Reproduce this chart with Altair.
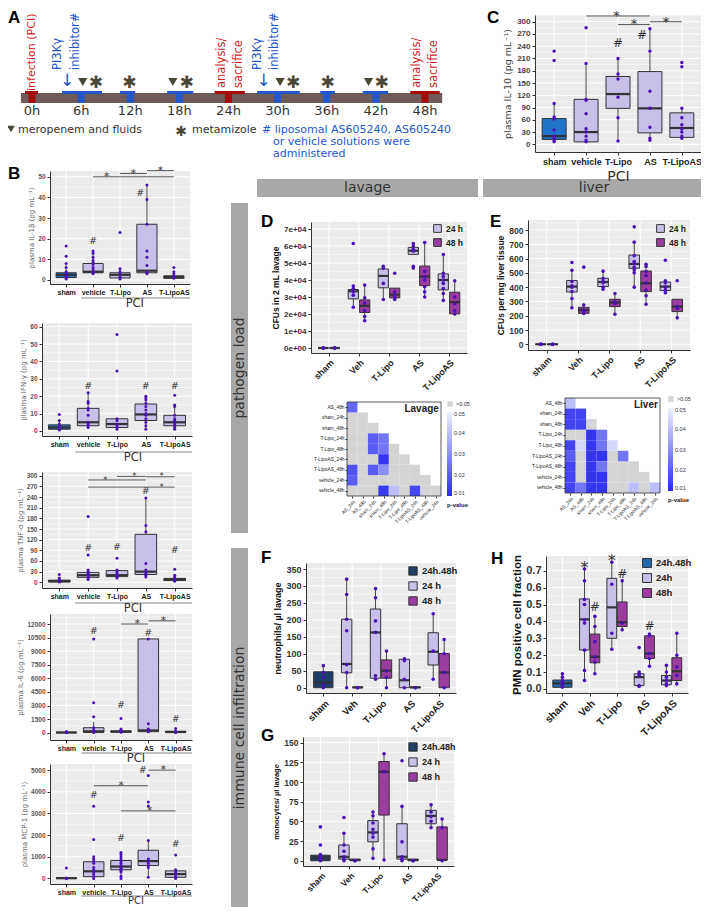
import json
import altair as alt
import pandas as pd

W, H = 693, 899


def P(v):
    return v - 8


SANS = "DejaVu Sans"
ARIAL = "Liberation Sans"
INK = "#333333"
PTC = "#4b12b3"
LAV = "#c8c0e9"
PUR = "#9b3c9f"
SHAM_B = "#2273ca"
SHAM_F = "#1f3d6b"
SHAM_H = "#2866ab"
BG = "#ebebeb"
RED = "#d21e1e"
DRED = "#a50d0d"
BLUE = "#2457c9"
OLIVE = "#4a4737"
HEAD = "#a8a8a8"

# ---------------- A: timeline ----------------
TIMES = [0, 6, 12, 18, 24, 30, 36, 42, 48]
TIME_LABELS = ["0h", "6h", "12h", "18h", "24h", "30h", "36h", "42h", "48h"]
TIME_KIND = ["event", "drug", "drug", "drug", "event", "drug", "drug", "drug", "event"]
SEG_FROM = [-0.85, 3.66, 10.75, 16.5, 22.3, 27.5, 35.2, 40.4, 46.2]
SEG_TO = [0.73, 8.55, 12.6, 19.7, 26.0, 32.7, 37.0, 43.5, 49.8]
BAR_SPAN = [-1.35, 50.1]
INFECT_H = [0.05]
INFECT_T = ["infection (PCI)"]
INHIB_H = [3.2, 5.4, 27.6, 29.7]
INHIB_T = ["PI3Kγ", "inhibitor#", "PI3Kγ", "inhibitor#"]
ANALYSIS_H = [23.2, 25.3, 47.0, 49.1]
ANALYSIS_T = ["analysis/", "sacrifice", "analysis/", "sacrifice"]
ARROW_H = [4.3, 28.3]
MERO_H = [6.2, 17.2, 30.3, 41.1]
METAM_H = [7.8, 11.9, 18.9, 31.9, 36.1, 42.7]

# ---------------- B / C: plasma cytokines ----------------
CATS_B = ["sham", "vehicle", "T-Lipo", "AS", "T-LipoAS"]
GRP_B = ["sham", "PCI", "PCI", "PCI", "PCI"]

IL1B_Q1 = [1.2, 3.5, 1.0, 3.5, 0.8]
IL1B_MED = [2.5, 4.0, 2.5, 4.5, 1.5]
IL1B_Q3 = [3.5, 8.0, 3.5, 27.0, 2.0]
IL1B_LO = [0.5, 3.0, 0.5, 3.0, 0.5]
IL1B_HI = [7.0, 14.0, 5.5, 46.0, 2.5]
IL1B_PTS = [[16.5, 11.5, 8, 6, 4, 3.5, 3, 2.5, 2, 1.5, 1, 0.5],
            [14, 13, 11, 9.5, 8.5, 7.5, 6, 5, 4, 3.5, 3],
            [23, 5.5, 4, 3, 1.5, 1, 0.5],
            [46, 39, 27, 14, 11, 7, 4, 3.5, 3],
            [6, 4, 3, 2, 1.5, 1, 1]]
IL1B_HASH = [(2, 19), (3.75, 42)]
IL1B_SIG = [(2, 5, 50.0, 2.5), (3, 4, 51.6, 3.5), (4, 5, 53.0, 4.5)]

IFNG_Q1 = [1, 3, 2, 6, 3]
IFNG_MED = [2, 5, 4, 9.5, 5]
IFNG_Q3 = [3.5, 13, 7, 15.5, 9]
IFNG_LO = [0.5, 2, 1, 1, 1]
IFNG_HI = [6, 22, 7, 20, 15]
IFNG_PTS = [[9.5, 6, 4, 3, 2.5, 2, 1.5, 1, 0.5],
            [22, 17, 16, 13, 12, 9, 5, 4, 3, 2],
            [55.5, 34.5, 7, 6, 4, 3, 2, 1],
            [20, 19, 18, 16, 14, 12, 10, 9, 7, 5, 3, 1],
            [20.5, 15, 14, 9, 7, 6, 5, 4, 3, 2, 1]]
IFNG_HASH = [(2, 26), (4, 26), (5, 26)]
IFNG_SIG = []

TNF_Q1 = [1, 14, 16, 22, 5]
TNF_MED = [3, 20, 20, 30, 8]
TNF_Q3 = [6, 28, 33, 135, 11]
TNF_LO = [0, 8, 10, 15, 2]
TNF_HI = [12, 35, 35, 237, 20]
TNF_PTS = [[22, 12, 8, 5, 3, 1],
           [185, 77, 35, 30, 25, 22, 20, 18, 15, 12, 8],
           [68, 35, 30, 25, 20, 17, 15, 12],
           [237, 160, 142, 53, 35, 30, 25, 20, 15],
           [37, 20, 15, 10, 8, 5, 3]]
TNF_HASH = [(2, 97), (3, 98), (4, 257), (5, 91)]
TNF_SIG = [(2, 4, 288, 2.6), (3, 4, 298, 3.6), (4, 5, 297, 4.55), (2, 5, 268, 4.55)]

IL6_Q1 = [0, 30, 50, 100, 20]
IL6_MED = [20, 150, 120, 250, 80]
IL6_Q3 = [50, 550, 200, 10350, 150]
IL6_LO = [0, 0, 20, 50, 0]
IL6_HI = [100, 1200, 400, 10350, 200]
IL6_PTS = [[120, 50, 20, 0],
           [10350, 3300, 1750, 550, 300, 150, 80, 30],
           [1580, 400, 300, 150, 100, 50],
           [10350, 1000, 400, 300, 200, 100],
           [450, 150, 50, 20]]
IL6_HASH = [(2, 11260), (3, 3050), (4, 11040), (5, 1470)]
IL6_SIG = [(3, 4, 12000, 3.6), (4, 5, 12350, 4.55)]

MCP1_Q1 = [0, 80, 400, 600, 50]
MCP1_MED = [10, 330, 550, 800, 200]
MCP1_Q3 = [30, 770, 830, 1300, 350]
MCP1_LO = [0, 0, 0, 50, 0]
MCP1_HI = [50, 1000, 1200, 1750, 400]
MCP1_PTS = [[480, 20, 0],
            [3330, 1800, 1000, 900, 800, 700, 500, 400, 300, 200, 100, 0],
            [1200, 1100, 1000, 900, 800, 700, 600, 500, 450, 400, 350, 300, 100, 0],
            [4750, 3530, 3350, 1750, 900, 850, 800, 700, 600, 500, 50],
            [1080, 400, 300, 200, 100, 50, 0]]
MCP1_HASH = [(2, 3840), (3, 1880), (3.8, 5000), (5, 1580)]
MCP1_SIG = [(4, 5, 5000, 4.55), (2, 4, 4280, 3.0), (3, 5, 3120, 4.05)]

IL10_Q1 = [12, 6, 88, 28, 17]
IL10_MED = [20, 30, 123, 88, 40]
IL10_Q3 = [63, 110, 166, 178, 77]
IL10_LO = [6, 6, 8, 8, 14]
IL10_HI = [100, 198, 210, 283, 88]
IL10_PTS = [[228, 205, 100, 67, 62, 35, 20, 15, 10, 6],
            [285, 198, 110, 108, 75, 38, 30, 20, 10, 6],
            [210, 172, 160, 115, 65, 8],
            [283, 228, 130, 88, 42, 15, 10],
            [200, 190, 88, 65, 48, 38, 30, 20, 15]]
IL10_HASH = [(3, 248), (3.75, 268)]
IL10_SIG = [(2, 4, 314, 2.95), (3, 4, 293, 3.5), (4, 5, 300, 4.5)]

# ---------------- D / E: pathogen load ----------------
CATS_D = ["sham", "Veh", "T-Lipo", "AS", "T-LipoAS"]
D_Q1_24 = [0, 28900, 35400, 55100, 34200]
D_MED_24 = [0, 33400, 42400, 57200, 40000]
D_Q3_24 = [0, 34400, 46500, 59200, 43600]
D_LO_24 = [0, 23600, 28300, 55100, 27900]
D_HI_24 = [0, 37100, 48000, 61500, 55900]
D_PTS_24 = [[0, 0, 0], [61500, 36500, 35000, 33000, 31000, 24000],
            [48000, 47000, 38000, 28500], [61500, 60000, 58000, 57000, 48000, 47000],
            [55000, 44000, 42000, 40000, 38000, 35000, 32000, 28000]]
D_Q1_48 = [0, 20900, 29500, 36700, 20100]
D_MED_48 = [0, 24800, 31400, 42000, 27000]
D_Q3_48 = [0, 28300, 35200, 48200, 32800]
D_LO_48 = [0, 15600, 28500, 30000, 19100]
D_HI_48 = [0, 37700, 35200, 62000, 39600]
D_PTS_48 = [[0, 0, 0], [37000, 29500, 26500, 22000, 18500, 16000],
            [44000, 33000, 31000, 29500, 28500], [62000, 45000, 42000, 40000, 36000, 33000, 30000],
            [39500, 30000, 26000, 22000, 20000]]

E_Q1_24 = [0, 366, 404, 532, 376]
E_MED_24 = [0, 404, 436, 562, 404]
E_Q3_24 = [0, 446, 462, 625, 436]
E_LO_24 = [0, 259, 385, 397, 362]
E_HI_24 = [0, 518, 516, 718, 443]
E_PTS_24 = [[0, 0, 0], [572, 518, 440, 410, 400, 370, 320, 255],
            [512, 460, 440, 430, 400, 385], [822, 715, 620, 580, 565, 540, 520, 500, 400],
            [588, 445, 430, 400, 380, 375, 360]]
E_Q1_48 = [0, 217, 264, 369, 229]
E_MED_48 = [0, 240, 292, 427, 264]
E_Q3_48 = [0, 259, 315, 513, 315]
E_LO_48 = [0, 210, 205, 282, 182]
E_HI_48 = [0, 287, 357, 562, 315]
E_PTS_48 = [[0, 0, 0], [540, 275, 240, 230, 215], [355, 300, 290, 285, 210],
            [560, 545, 510, 480, 430, 380, 340, 280], [445, 265, 250, 185]]

# heatmaps (None = p > 0.05)
HM_ROWS = ["AS_48h", "sham_24h", "sham_48h", "T-Lipo_24h", "T-Lipo_48h",
           "T-LipoAS_24h", "T-LipoAS_48h", "vehicle_24h", "vehicle_48h"]
HM_COLS = ["AS_24h", "AS_48h", "sham_24h", "sham_48h", "T-Lipo_24h", "T-Lipo_48h",
           "T-LipoAS_24h", "T-LipoAS_48h", "vehicle_24h"]
LAV_P = [[0.022],
         [None, None],
         [None, None, None],
         [None, None, 0.02, 0.025],
         [None, None, 0.02, 0.025, None],
         [None, None, None, 0.012, None, None],
         [0.018, None, 0.02, 0.03, None, None, None],
         [0.02, None, None, None, None, None, None, None],
         [None, None, None, 0.013, 0.04, None, 0.016, None, None]]
LIV_P = [[0.04],
         [0.015, 0.015],
         [0.015, 0.015, None],
         [None, None, 0.012, 0.025],
         [0.015, 0.045, 0.012, 0.025, 0.045],
         [0.02, None, 0.012, 0.012, None, 0.025],
         [0.015, None, 0.012, 0.025, None, None, None],
         [0.015, None, 0.012, 0.012, None, None, None, None],
         [0.015, 0.025, 0.012, 0.012, None, None, 0.04, None, 0.04]]

# ---------------- F / G / H: immune cells ----------------
F_SHAM = [0, 15, 47, 0, 67]
F_SHAM_PTS = [65, 45, 30, 10, 0]
F_Q1_24 = [44, 28, 0, 67]
F_MED_24 = [70, 163, 22, 106]
F_Q3_24 = [202, 232, 84, 162]
F_LO_24 = [0, 25, 0, 25]
F_HI_24 = [320, 292, 85, 218]
F_PTS_24 = [[320, 275, 202, 168, 68, 45, 0], [292, 265, 197, 163, 35, 25], [85, 80, 25, 0], [218, 108, 25]]
F_Q1_48 = [0, 28, 0, 0]
F_MED_48 = [1, 50, 1, 45]
F_Q3_48 = [2, 82, 2, 101]
F_LO_48 = [0, 0, 0, 0]
F_HI_48 = [2, 108, 2, 142]
F_PTS_48 = [[0, 0], [108, 50, 30, 0], [0, 0], [142, 100, 45, 0]]

G_SHAM = [0, 4, 7, 0, 8]
G_SHAM_PTS = [43, 20, 8, 5, 3, 1, 0]
G_Q1_24 = [2, 24, 2, 47]
G_MED_24 = [5, 36, 5, 57]
G_Q3_24 = [20, 51, 47, 64]
G_LO_24 = [0, 3, 0, 42]
G_HI_24 = [36, 63, 69, 71]
G_PTS_24 = [[55, 35, 20, 12, 5, 2, 0], [62, 57, 48, 40, 35, 30, 15, 3], [127, 69, 24, 5, 2, 0], [71, 62, 56, 50, 42]]
G_Q1_48 = [0, 58, 0, 1]
G_MED_48 = [1, 113, 1, 1]
G_Q3_48 = [2, 126, 2, 43]
G_LO_48 = [0, 1, 0, 0]
G_HI_48 = [2, 137, 2, 54]
G_PTS_48 = [[0, 0], [136, 113, 1], [0, 0], [53, 42, 0]]

H_SHAM = [0.01, 0.034, 0.053, 0.005, 0.09]
H_SHAM_PTS = [0.09, 0.07, 0.05, 0.04, 0.03, 0.02, 0.01]
H_Q1_24 = [0.231, 0.30, 0.02, 0.025]
H_MED_24 = [0.412, 0.483, 0.07, 0.05]
H_Q3_24 = [0.533, 0.655, 0.09, 0.08]
H_LO_24 = [0.05, 0.235, 0.015, 0.015]
H_HI_24 = [0.71, 0.75, 0.10, 0.14]
H_PTS_24 = [[0.71, 0.64, 0.53, 0.5, 0.41, 0.39, 0.23, 0.11, 0.05], [0.75, 0.62, 0.33, 0.235],
            [0.245, 0.1, 0.09, 0.08, 0.02, 0.015], [0.14, 0.1, 0.07, 0.05, 0.03, 0.02]]
H_Q1_48 = [0.155, 0.37, 0.18, 0.05]
H_MED_48 = [0.19, 0.395, 0.21, 0.105]
H_Q3_48 = [0.325, 0.515, 0.315, 0.185]
H_LO_48 = [0.09, 0.35, 0.135, 0.025]
H_HI_48 = [0.43, 0.64, 0.325, 0.33]
H_PTS_48 = [[0.43, 0.37, 0.28, 0.19, 0.16, 0.09], [0.64, 0.39, 0.35],
            [0.325, 0.315, 0.21, 0.18, 0.135], [0.33, 0.2, 0.13, 0.08, 0.03]]
H_STAR = [(1.81, 0.738), (2.81, 0.779)]
H_HASH = [(2.19, 0.483), (3.19, 0.68), (4.19, 0.375)]

# ======================================================================
AXC = dict(grid=False, zindex=1, domainColor=INK, tickColor=INK, labelOverlap=False,
           labelFlush=False, domainWidth=1)
ONE = pd.DataFrame({"k": [0]})


def box_rows(idx, off, half, grp, q1, med, q3, lo, hi):
    out = []
    for c, a, m, b, l, h in zip(idx, q1, med, q3, lo, hi):
        out.append(dict(pos=c + off, l=c + off - half, r=c + off + half,
                        q1=a, med=m, q3=b, lo=l, hi=h, grp=grp))
    return out


def pt_rows(idx, off, pts):
    return [dict(pos=c + off, v=v) for c, vs in zip(idx, pts) for v in vs]


def box_panel(xr, yr, ydom, yticks, cats, boxes, pts, cdom, crange, legend, xkw, ykw, ptsize):
    n = len(cats)
    xdom = [0.4, n + 0.6]
    xs = alt.Scale(domain=xdom, range=[P(xr[0]), P(xr[1])], nice=False, zero=False)
    ys = alt.Scale(domain=list(ydom), range=[P(yr[1]), P(yr[0])], nice=False, zero=False)
    xa = alt.Axis(orient="bottom", offset=P(yr[1]) - H, values=list(range(1, n + 1)),
                  labelExpr=json.dumps(cats) + "[round(datum.value) - 1]",
                  tickSize=3, **AXC, **xkw)
    ya = alt.Axis(orient="left", offset=-P(xr[0]), values=list(yticks), tickSize=3, **AXC, **ykw)

    def X(f):
        return alt.X(f, type="quantitative", scale=xs, axis=xa)

    def Y(f):
        return alt.Y(f, type="quantitative", scale=ys, axis=ya)

    L = []
    bg = pd.DataFrame([{"a": xdom[0], "b": xdom[1], "c": ydom[0], "d": ydom[1]}])
    L.append(alt.Chart(bg).mark_rect(fill=BG).encode(x=X("a"), x2="b", y=Y("c"), y2="d"))
    step = yticks[1] - yticks[0]
    minor = [t + step / 2 for t in yticks if ydom[0] < t + step / 2 < ydom[1]]
    mg = pd.DataFrame({"v": minor, "a": xdom[0], "b": xdom[1]})
    L.append(alt.Chart(mg).mark_rule(color="white", strokeWidth=0.5).encode(x=X("a"), x2="b", y=Y("v")))
    gg = pd.DataFrame({"v": list(yticks), "a": xdom[0], "b": xdom[1]})
    L.append(alt.Chart(gg).mark_rule(color="white", strokeWidth=1).encode(x=X("a"), x2="b", y=Y("v")))
    vg = pd.DataFrame({"c": list(range(1, n + 1)), "a": ydom[0], "b": ydom[1]})
    L.append(alt.Chart(vg).mark_rule(color="white", strokeWidth=1).encode(x=X("c"), y=Y("a"), y2="b"))
    bx = pd.DataFrame(boxes)
    L.append(alt.Chart(bx).mark_rule(color=INK, strokeWidth=0.9).encode(x=X("pos"), y=Y("lo"), y2="hi"))
    L.append(alt.Chart(bx).mark_rect(stroke=INK, strokeWidth=1).encode(
        x=X("l"), x2="r", y=Y("q1"), y2="q3",
        color=alt.Color("grp:N", scale=alt.Scale(domain=cdom, range=crange), legend=legend)))
    L.append(alt.Chart(bx).mark_rule(color=INK, strokeWidth=2.2).encode(x=X("l"), x2="r", y=Y("med")))
    L.append(alt.Chart(pd.DataFrame(pts)).mark_circle(color=PTC, size=ptsize, opacity=1).encode(
        x=X("pos"), y=Y("v")))
    return L, X, Y


def txt(X, Y, pairs, text, **mk):
    df = pd.DataFrame({"x": [p[0] for p in pairs], "y": [p[1] for p in pairs]})
    return alt.Chart(df).mark_text(text=text, **mk).encode(x=X("x"), y=Y("y"))


def sig_layers(X, Y, sig, fs):
    if not sig:
        return []
    df = pd.DataFrame({"a": [s[0] for s in sig], "b": [s[1] for s in sig],
                       "y": [s[2] for s in sig], "sx": [s[3] for s in sig]})
    rules = alt.Chart(df).mark_rule(color=INK, strokeWidth=0.8).encode(x=X("a"), x2="b", y=Y("y"))
    stars = alt.Chart(df).mark_text(text="*", font=SANS, fontSize=fs, color=INK,
                                    baseline="alphabetic", dy=fs * 0.3).encode(x=X("sx"), y=Y("y"))
    return [rules, stars]


# ---------------- build B / C panels ----------------
def cyto_panel(xr, yr, ydom, yticks, title, q1, med, q3, lo, hi, pts, hashes, sig,
               big=False, pci=None, pci_fs=11.5, star_fs=10.5):
    idx = list(range(1, 6))
    boxes = []
    for i, g in zip(idx, GRP_B):
        boxes += box_rows([i], 0, 0.375, g, [q1[i - 1]], [med[i - 1]], [q3[i - 1]], [lo[i - 1]], [hi[i - 1]])
    pr = pt_rows(idx, 0, pts)
    if big:
        xkw = dict(title="PCI", labelFont=ARIAL, labelFontSize=9, labelFontWeight="bold", labelColor="#222",
                   labelPadding=2, titleFont=SANS, titleFontSize=14, titleFontWeight="normal",
                   titleColor="#333", titlePadding=3)
        ykw = dict(title=title, labelFont=ARIAL, labelFontSize=8, labelFontWeight="bold", labelColor="#444",
                   titleFont=SANS, titleFontSize=9.5, titleFontWeight="normal", titleColor="#444",
                   titlePadding=4, format="d")
        fs_h, fs_s, ps = 12, 13, 12
    else:
        xkw = dict(title=None, labelFont=ARIAL, labelFontSize=7, labelFontWeight="bold", labelColor="#222",
                   labelPadding=1)
        ykw = dict(title=title, labelFont=ARIAL, labelFontSize=6.5, labelFontWeight="bold", labelColor="#555",
                   titleFont=SANS, titleFontSize=7, titleFontWeight="normal", titleColor="#666",
                   titlePadding=3, format="d")
        fs_h, fs_s, ps = 9.5, star_fs, 9
    L, X, Y = box_panel(xr, yr, ydom, yticks, CATS_B, boxes, pr, ["sham", "PCI"], [SHAM_B, LAV],
                        None, xkw, ykw, ps)
    if hashes:
        L.append(txt(X, Y, hashes, "#", font=SANS, fontSize=fs_h, color=INK, baseline="middle"))
    L += sig_layers(X, Y, sig, fs_s)
    if pci is not None:
        line_y, text_y = pci
        L.append(alt.Chart(pd.DataFrame({"a": [1.55], "b": [5.6]})).mark_rule(color="#666", strokeWidth=0.8)
                 .encode(x=X("a"), x2="b", y=alt.value(P(line_y))))
        L.append(alt.Chart(pd.DataFrame({"x": [3.55]})).mark_text(text="PCI", font=SANS, fontSize=pci_fs,
                                                                 color="#333", baseline="middle")
                 .encode(x=X("x"), y=alt.value(P(text_y))))
    return alt.layer(*L)


panels = []

panels.append(cyto_panel([535, 701], [15, 152], [-18.8, 316.4], list(range(0, 301, 30)),
                         "plasma IL-10 (pg mL⁻¹)", IL10_Q1, IL10_MED, IL10_Q3, IL10_LO, IL10_HI,
                         IL10_PTS, IL10_HASH, IL10_SIG, big=True))
panels.append(cyto_panel([50, 190], [171, 284], [-1.94, 52.8], list(range(0, 51, 10)),
                         "plasma IL-1β (pg mL⁻¹)", IL1B_Q1, IL1B_MED, IL1B_Q3, IL1B_LO, IL1B_HI,
                         IL1B_PTS, IL1B_HASH, IL1B_SIG, pci=(298, 304)))
panels.append(cyto_panel([42, 192], [323, 436], [-2.9, 62.1], list(range(0, 61, 10)),
                         "plasma IFN-γ (pg mL⁻¹)", IFNG_Q1, IFNG_MED, IFNG_Q3, IFNG_LO, IFNG_HI,
                         IFNG_PTS, IFNG_HASH, IFNG_SIG, pci=(452, 458)))
panels.append(cyto_panel([42, 192], [472, 588], [-16, 310.4], list(range(0, 301, 30)),
                         "plasma TNF-α (pg mL⁻¹)", TNF_Q1, TNF_MED, TNF_Q3, TNF_LO, TNF_HI,
                         TNF_PTS, TNF_HASH, TNF_SIG, pci=(603, 609), star_fs=8.5))
panels.append(cyto_panel([50, 192], [614, 740], [-806, 13104], list(range(0, 12001, 1500)),
                         "plasma IL-6 (pg mL⁻¹)", IL6_Q1, IL6_MED, IL6_Q3, IL6_LO, IL6_HI,
                         IL6_PTS, IL6_HASH, IL6_SIG, pci=(753, 759)))
panels.append(cyto_panel([50, 192], [764, 884], [-257, 5284], list(range(0, 5001, 1000)),
                         "plasma MCP-1 (pg mL⁻¹)", MCP1_Q1, MCP1_MED, MCP1_Q3, MCP1_LO, MCP1_HI,
                         MCP1_PTS, MCP1_HASH, MCP1_SIG, pci=(896, 901), pci_fs=10))


# ---------------- D / E / F / G / H ----------------
def grp_legend(x, y, fs, sym):
    return alt.Legend(orient="none", legendX=P(x), legendY=P(y), title=None, symbolType="square",
                      symbolSize=sym, symbolStrokeColor=INK, symbolStrokeWidth=1, labelFont=ARIAL,
                      labelFontSize=fs, labelFontWeight="bold", labelColor="#222", rowPadding=1,
                      labelOffset=4)


def rot_xkw(fs):
    return dict(title=None, labelAngle=-45, labelAlign="right", labelBaseline="top", labelFont=ARIAL,
                labelFontSize=fs, labelFontWeight="bold", labelColor="#222", labelPadding=2)


def bold_ykw(title, lfs, tfs, **extra):
    d = dict(title=title, labelFont=ARIAL, labelFontSize=lfs, labelFontWeight="bold", labelColor="#333",
             titleFont=ARIAL, titleFontSize=tfs, titleFontWeight="bold", titleColor="#111", titlePadding=3)
    d.update(extra)
    return d


def load_panel(xr, yr, ydom, yticks, q24, q48, p24, p48, legend, ykw, xfs):
    idx = list(range(1, 6))
    boxes = box_rows(idx, -0.19, 0.17, "24 h", *q24) + box_rows(idx, 0.19, 0.17, "48 h", *q48)
    pr = pt_rows(idx, -0.19, p24) + pt_rows(idx, 0.19, p48)
    L, X, Y = box_panel(xr, yr, ydom, yticks, CATS_D, boxes, pr, ["24 h", "48 h"], [LAV, PUR],
                        legend, rot_xkw(xfs), ykw, 13)
    return alt.layer(*L)


panels.append(load_panel([311, 467], [222, 353], [-2941, 74118], list(range(0, 70001, 10000)),
                         [D_Q1_24, D_MED_24, D_Q3_24, D_LO_24, D_HI_24],
                         [D_Q1_48, D_MED_48, D_Q3_48, D_LO_48, D_HI_48], D_PTS_24, D_PTS_48,
                         grp_legend(433, 224, 8.5, 60),
                         bold_ykw("CFUs in 2 mL lavage", 8, 8.5,
                                  labelExpr="datum.value == 0 ? '0e+00' : (datum.value / 10000) + 'e+04'"),
                         9))
panels.append(load_panel([528, 690], [220, 350], [-40, 870], list(range(0, 801, 100)),
                         [E_Q1_24, E_MED_24, E_Q3_24, E_LO_24, E_HI_24],
                         [E_Q1_48, E_MED_48, E_Q3_48, E_LO_48, E_HI_48], E_PTS_24, E_PTS_48,
                         grp_legend(656, 224, 8.5, 60),
                         bold_ykw("CFUs per mg liver tissue", 8.5, 8.5), 9))


def cell_panel(xr, yr, ydom, yticks, sham, sham_pts, q24, q48, p24, p48, labels, colors, legend, ykw,
               xfs, sham_half, extra=None):
    idx = [2, 3, 4, 5]
    boxes = box_rows([1], 0, sham_half, labels[0], [sham[0]], [sham[1]], [sham[2]], [sham[3]], [sham[4]])
    boxes += box_rows(idx, -0.19, 0.18, labels[1], *q24) + box_rows(idx, 0.19, 0.18, labels[2], *q48)
    pr = pt_rows([1], 0, [sham_pts]) + pt_rows(idx, -0.19, p24) + pt_rows(idx, 0.19, p48)
    L, X, Y = box_panel(xr, yr, ydom, yticks, CATS_D, boxes, pr, labels, colors, legend,
                        rot_xkw(xfs), ykw, 13)
    if extra:
        L += extra(X, Y)
    return alt.layer(*L)


panels.append(cell_panel([306, 456], [563, 693], [-15.6, 367.7], list(range(0, 351, 50)),
                         F_SHAM, F_SHAM_PTS,
                         [F_Q1_24, F_MED_24, F_Q3_24, F_LO_24, F_HI_24],
                         [F_Q1_48, F_MED_48, F_Q3_48, F_LO_48, F_HI_48], F_PTS_24, F_PTS_48,
                         ["24h.48h", "24 h", "48 h"], [SHAM_F, LAV, PUR],
                         grp_legend(408, 566, 9.5, 70),
                         bold_ykw("neutrophils/ µl lavage", 9, 9), 9.5, 0.335))
panels.append(cell_panel([303, 454], [737, 866], [-6.7, 157.2], list(range(0, 151, 25)),
                         G_SHAM, G_SHAM_PTS,
                         [G_Q1_24, G_MED_24, G_Q3_24, G_LO_24, G_HI_24],
                         [G_Q1_48, G_MED_48, G_Q3_48, G_LO_48, G_HI_48], G_PTS_24, G_PTS_48,
                         ["24h.48h", "24 h", "48 h"], [SHAM_F, LAV, PUR],
                         grp_legend(408, 742, 9, 70),
                         bold_ykw("monocytes/ µl lavage", 8.5, 7.5), 8.5, 0.335))


def h_extra(X, Y):
    return [txt(X, Y, H_STAR, "*", font=SANS, fontSize=16, color=INK, baseline="middle", dy=4),
            txt(X, Y, H_HASH, "#", font=SANS, fontSize=12, color=INK, baseline="middle")]


panels.append(cell_panel([546, 688], [556, 693], [-0.0237, 0.787], [0, 0.1, 0.2, 0.3, 0.4, 0.5, 0.6, 0.7],
                         H_SHAM, H_SHAM_PTS,
                         [H_Q1_24, H_MED_24, H_Q3_24, H_LO_24, H_HI_24],
                         [H_Q1_48, H_MED_48, H_Q3_48, H_LO_48, H_HI_48], H_PTS_24, H_PTS_48,
                         ["24h.48h", "24h", "48h"], [SHAM_H, LAV, PUR],
                         grp_legend(642, 558, 9.5, 80),
                         bold_ykw("PMN positive cell fraction", 11, 11.5, format=".1f"), 10.5, 0.35,
                         extra=h_extra))


# ---------------- heatmaps ----------------
def heat_panel(pv, xr, yr, name, legx, legy_gray, legy_grad, glen):
    xs = alt.Scale(domain=[0, 9], range=[P(xr[0]), P(xr[1])], nice=False, zero=False)
    ys = alt.Scale(domain=[0, 9], range=[P(yr[0]), P(yr[1])], nice=False, zero=False)
    xa = alt.Axis(orient="bottom", offset=P(yr[1]) - H, values=[i + 0.5 for i in range(9)],
                  labelExpr=json.dumps(HM_COLS) + "[floor(datum.value)]", labelAngle=-45,
                  labelAlign="right", labelBaseline="top", labelFont=ARIAL, labelFontSize=4.8,
                  labelColor="#222", tickSize=2, domain=False, title=None, labelPadding=1,
                  grid=False, zindex=1, tickColor=INK, labelOverlap=False, labelFlush=False)
    ya = alt.Axis(orient="left", offset=-P(xr[0]), values=[i + 0.5 for i in range(9)],
                  labelExpr=json.dumps(HM_ROWS) + "[floor(datum.value)]", labelFont=ARIAL,
                  labelFontSize=4.8, labelColor="#222", tickSize=2, domain=False, title=None,
                  labelPadding=1, grid=False, zindex=1, tickColor=INK, labelOverlap=False)

    def X(f):
        return alt.X(f, type="quantitative", scale=xs, axis=xa)

    def Y(f):
        return alt.Y(f, type="quantitative", scale=ys, axis=ya)

    gray, blue = [], []
    for r, row in enumerate(pv):
        for c, p in enumerate(row):
            rec = {"c0": c, "c1": c + 1, "r0": r, "r1": r + 1}
            if p is None:
                rec["k"] = ">0.05"
                gray.append(rec)
            else:
                rec["p"] = p
                blue.append(rec)
    L = []
    L.append(alt.Chart(pd.DataFrame([{"a": 0, "b": 9}])).mark_rect(fill="white").encode(
        x=X("a"), x2="b", y=Y("a"), y2="b"))
    L.append(alt.Chart(pd.DataFrame(gray)).mark_rect().encode(
        x=X("c0"), x2="c1", y=Y("r0"), y2="r1",
        color=alt.Color("k:N", scale=alt.Scale(domain=[">0.05"], range=["#d4d4d4"]),
                        legend=alt.Legend(orient="none", legendX=P(legx), legendY=P(legy_gray), title=None,
                                          symbolType="square", symbolSize=30, symbolStrokeWidth=0,
                                          labelFont=ARIAL, labelFontSize=5.5, labelOffset=3,
                                          labelColor="#333"))))
    L.append(alt.Chart(pd.DataFrame(blue)).mark_rect().encode(
        x=X("c0"), x2="c1", y=Y("r0"), y2="r1",
        color=alt.Color("p:Q", scale=alt.Scale(domain=[0.01, 0.05], range=["#2a2af0", "#eef1ff"],
                                               interpolate="rgb"),
                        legend=alt.Legend(orient="none", direction="vertical", legendX=P(legx),
                                          legendY=P(legy_grad), title="p-value", titleOrient="bottom",
                                          titleFont=ARIAL, titleFontSize=6, titleFontWeight="bold",
                                          titleColor="#222", gradientLength=glen, gradientThickness=5,
                                          gradientStrokeWidth=0, values=[0.01, 0.02, 0.03, 0.04, 0.05],
                                          format=".2f", labelFont=ARIAL, labelFontSize=5.5,
                                          labelColor="#333", labelOverlap=False))))
    L.append(alt.Chart(pd.DataFrame([{"a": 0, "b": 9}])).mark_rect(fill="white", fillOpacity=0,
                                                                  stroke=INK, strokeWidth=0.8).encode(
        x=X("a"), x2="b", y=Y("a"), y2="b"))
    L.append(alt.Chart(pd.DataFrame([{"x": 8.8, "y": 0.65}])).mark_text(
        text=name, font=ARIAL, fontSize=10, fontWeight="bold", align="right", baseline="middle",
        color="#222").encode(x=X("x"), y=Y("y")))
    return alt.layer(*L).resolve_scale(color="independent")


panels.append(heat_panel(LAV_P, [347, 441], [402, 496], "Lavage", 447, 401, 412, 84))
panels.append(heat_panel(LIV_P, [565, 660], [398, 493], "Liver", 668, 396, 408, 83))

# ---------------- timeline (A) ----------------
hx = alt.Scale(domain=[0, 48], range=[P(32), P(425)], nice=False, zero=False)


def HX(f):
    return alt.X(f, type="quantitative", scale=hx, axis=None)


TL = []
TL.append(alt.Chart(pd.DataFrame({"a": [BAR_SPAN[0]], "b": [BAR_SPAN[1]]})).mark_rect(color="#6f5a5a")
          .encode(x=HX("a"), x2="b", y=alt.value(P(93)), y2=alt.value(P(103))))
kind_color = alt.Color("k:N", scale=alt.Scale(domain=["event", "drug"], range=[DRED, BLUE]), legend=None)
TL.append(alt.Chart(pd.DataFrame({"a": SEG_FROM, "b": SEG_TO, "k": TIME_KIND})).mark_rect()
          .encode(x=HX("a"), x2="b", y=alt.value(P(91)), y2=alt.value(P(94)), color=kind_color))
TL.append(alt.Chart(pd.DataFrame({"a": [t - 0.43 for t in TIMES], "b": [t + 0.43 for t in TIMES],
                                  "k": TIME_KIND})).mark_rect()
          .encode(x=HX("a"), x2="b", y=alt.value(P(92)), y2=alt.value(P(103)), color=kind_color))
TL.append(alt.Chart(pd.DataFrame({"t": TIMES, "s": TIME_LABELS})).mark_text(
    font=SANS, fontSize=13, color="#333", baseline="middle")
          .encode(x=HX("t"), y=alt.value(P(111)), text="s:N"))
TL.append(alt.Chart(pd.DataFrame({"h": INFECT_H, "s": INFECT_T})).mark_text(
    font=SANS, fontSize=11, color=RED, angle=270, align="left", baseline="middle")
          .encode(x=HX("h"), y=alt.value(P(91)), text="s:N"))
TL.append(alt.Chart(pd.DataFrame({"h": INHIB_H, "s": INHIB_T})).mark_text(
    font=SANS, fontSize=11.5, color=BLUE, angle=270, align="left", baseline="middle")
          .encode(x=HX("h"), y=alt.value(P(70)), text="s:N"))
TL.append(alt.Chart(pd.DataFrame({"h": ANALYSIS_H, "s": ANALYSIS_T})).mark_text(
    font=SANS, fontSize=11.5, color=RED, angle=270, align="left", baseline="middle")
          .encode(x=HX("h"), y=alt.value(P(88)), text="s:N"))
TL.append(alt.Chart(pd.DataFrame({"h": ARROW_H})).mark_text(
    text="↓", font=SANS, fontSize=17, color=BLUE, baseline="middle")
          .encode(x=HX("h"), y=alt.value(P(81))))
TL.append(alt.Chart(pd.DataFrame({"h": MERO_H})).mark_point(
    shape="triangle-down", filled=True, size=85, color=OLIVE, opacity=1)
          .encode(x=HX("h"), y=alt.value(P(82))))
TL.append(alt.Chart(pd.DataFrame({"h": METAM_H})).mark_text(
    text="✱", font=SANS, fontSize=17, color=OLIVE, baseline="middle")
          .encode(x=HX("h"), y=alt.value(P(83))))
panels.append(alt.layer(*TL))

# ---------------- decorations: legend of A, headers, side bars, letters ----------------
DEC = []
DEC.append(alt.Chart(ONE).mark_point(shape="triangle-down", filled=True, size=60, color=OLIVE, opacity=1)
           .encode(x=alt.value(P(11)), y=alt.value(P(129))))
DEC.append(alt.Chart(ONE).mark_text(text="meropenem and fluids", font=SANS, fontSize=11, color="#333",
                                    align="left", baseline="middle")
           .encode(x=alt.value(P(18)), y=alt.value(P(130))))
DEC.append(alt.Chart(ONE).mark_text(text="✱", font=SANS, fontSize=14, color=OLIVE, baseline="middle")
           .encode(x=alt.value(P(181)), y=alt.value(P(132))))
DEC.append(alt.Chart(ONE).mark_text(text="metamizole", font=SANS, fontSize=11, color="#333",
                                    align="left", baseline="middle")
           .encode(x=alt.value(P(192)), y=alt.value(P(130))))
for ytxt, xtxt, s in [(130, 262, "# liposomal AS605240, AS605240"),
                      (142, 273, "or vehicle solutions were"),
                      (154, 273, "administered")]:
    DEC.append(alt.Chart(ONE).mark_text(text=s, font=SANS, fontSize=11, color=BLUE, align="left",
                                        baseline="middle")
               .encode(x=alt.value(P(xtxt)), y=alt.value(P(ytxt))))

for x0, x1, s in [(257, 478, "lavage"), (483, 705, "liver")]:
    DEC.append(alt.Chart(ONE).mark_rect(color=HEAD).encode(
        x=alt.value(P(x0)), x2=alt.value(P(x1)), y=alt.value(P(179)), y2=alt.value(P(197))))
    DEC.append(alt.Chart(ONE).mark_text(text=s, font=SANS, fontSize=14, color="#333", baseline="middle")
               .encode(x=alt.value(P((x0 + x1) / 2)), y=alt.value(P(188))))
for y0, y1, s in [(203, 533, "pathogen load"), (548, 908, "immune cell infiltration")]:
    DEC.append(alt.Chart(ONE).mark_rect(color=HEAD).encode(
        x=alt.value(P(231)), x2=alt.value(P(248)), y=alt.value(P(y0)), y2=alt.value(P(y1))))
    DEC.append(alt.Chart(ONE).mark_text(text=s, font=SANS, fontSize=14, color="#333", angle=270,
                                        baseline="middle", align="center")
               .encode(x=alt.value(P(240)), y=alt.value(P((y0 + y1) / 2))))
for s, x, y in [("A", 8, 18), ("B", 8, 174), ("C", 487, 18), ("D", 261, 222), ("E", 490, 222),
                ("F", 261, 558), ("G", 261, 736), ("H", 491, 559)]:
    DEC.append(alt.Chart(ONE).mark_text(text=s, font=ARIAL, fontSize=17, fontWeight="bold", color="#000",
                                        baseline="middle", align="left")
               .encode(x=alt.value(P(x)), y=alt.value(P(y))))
panels.append(alt.layer(*DEC))

chart = alt.layer(*panels).resolve_scale(
    x="independent", y="independent", color="independent"
).properties(
    width=W, height=H, padding=0, autosize=alt.AutoSizeParams(type="none")
).configure_view(strokeWidth=0).configure_text(font=SANS)

chart.save("out.html", embed_options={"renderer": "svg", "actions": False})
